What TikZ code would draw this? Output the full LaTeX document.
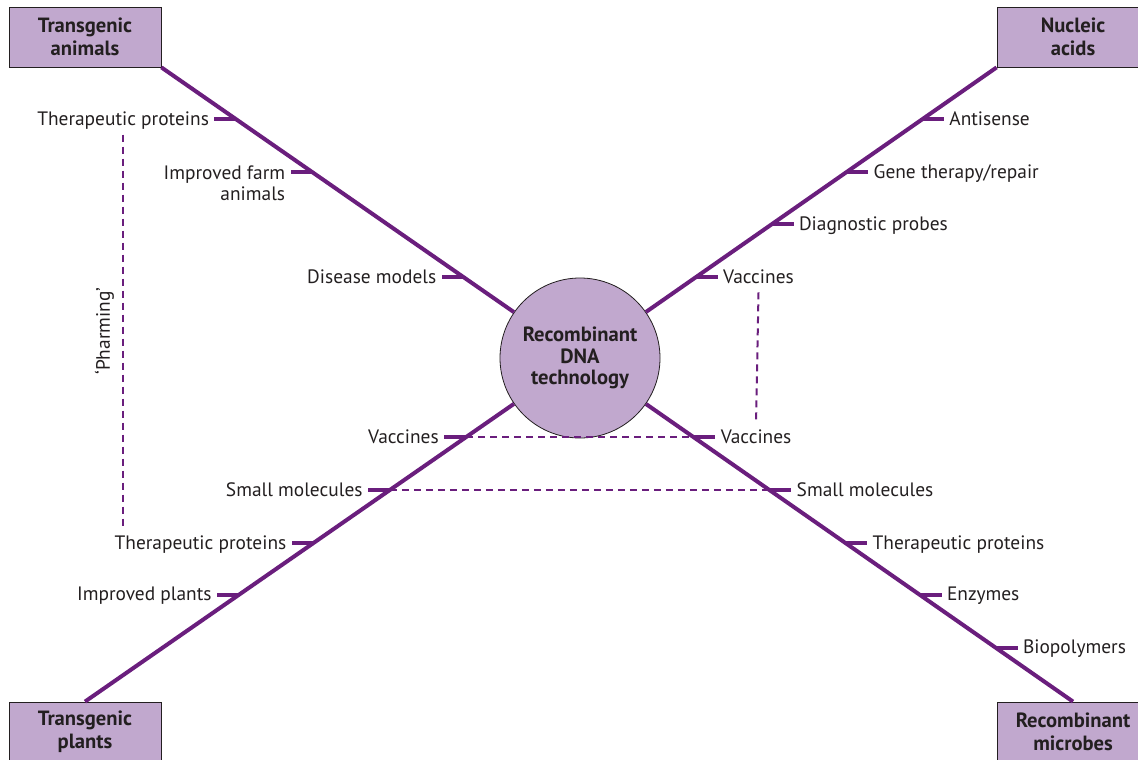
\documentclass[tikz,border=0pt]{standalone}
\usepackage{fontspec}
\setmainfont{PT Sans}
\usetikzlibrary{positioning,calc}
\usepackage{xcolor}
\definecolor{lilac}{HTML}{C1A8CE}
\definecolor{plum}{HTML}{6A1E7D}
\definecolor{ink}{HTML}{231F20}
\tikzset{
  topic/.style={draw=ink, thin, fill=lilac, text=ink, align=center, font=\bfseries\fontsize{10.3}{11.5}\selectfont, minimum width=76pt, minimum height=30pt, inner sep=0pt},
  hubnode/.style={circle, draw=ink, thin, fill=lilac, text=ink, align=center, font=\bfseries\fontsize{10.3}{10.75}\selectfont, minimum size=80pt, inner sep=0pt},
  stem/.style={draw=plum, line width=2pt},
  tick/.style={draw=plum, line width=2pt},
  item/.style={text=ink, font=\fontsize{9.7}{10.5}\selectfont, inner xsep=0pt, inner ysep=3pt, text height=1.5ex, text depth=.25ex},
  link/.style={draw=plum, line width=1pt, dash pattern=on 3.5pt off 2.5pt}
}

\begin{document}
\begin{tikzpicture}[x=0.5pt, y=-0.5pt]
  \clip (0,0) rectangle (1138,759);
  \node[hubnode] (hub) at (580,358) {Recombinant\\DNA\\technology};
  \node[topic] (animals) at (85,37) {Transgenic\\animals};
  \node[topic] (acids) at (1073,37) {Nucleic\\acids};
  \node[topic] (plants) at (85,732) {Transgenic\\plants};
  \node[topic] (microbes) at (1073,732) {Recombinant\\microbes};
  \draw[stem] (hub) -- (animals.south east);
  \draw[stem] (hub) -- (acids.south west);
  \draw[stem] (hub) -- (plants.north);
  \draw[stem] (hub) -- (microbes.north);

  % transgenic animals
  \coordinate (a1) at ($(hub.center)!0.821!(animals.south east)$);
  \coordinate[left=11pt of a1] (a1e);
  \node[item, left=2.5pt of a1e] (a1t) {Therapeutic proteins};
  \coordinate (a2) at ($(hub.center)!0.639!(animals.south east)$);
  \coordinate[left=11pt of a2] (a2e);
  \node[item, align=right, text height=, text depth=, left=2.5pt of a2e, yshift=-5.25pt] (a2t) {Improved farm\\animals};
  \coordinate (a3) at ($(hub.center)!0.278!(animals.south east)$);
  \coordinate[left=11pt of a3] (a3e);
  \node[item, left=2.5pt of a3e] (a3t) {Disease models};
  \draw[tick] (a1) -- (a1e);
  \draw[tick] (a2) -- (a2e);
  \draw[tick] (a3) -- (a3e);

  % nucleic acids
  \coordinate (n1) at ($(hub.center)!0.821!(acids.south west)$);
  \coordinate[right=11pt of n1] (n1e);
  \node[item, right=2.5pt of n1e] (n1t) {Antisense};
  \coordinate (n2) at ($(hub.center)!0.639!(acids.south west)$);
  \coordinate[right=11pt of n2] (n2e);
  \node[item, right=2.5pt of n2e] (n2t) {Gene therapy/repair};
  \coordinate (n3) at ($(hub.center)!0.460!(acids.south west)$);
  \coordinate[right=11pt of n3] (n3e);
  \node[item, right=2.5pt of n3e] (n3t) {Diagnostic probes};
  \coordinate (n4) at ($(hub.center)!0.278!(acids.south west)$);
  \coordinate[right=11pt of n4] (n4e);
  \node[item, right=2.5pt of n4e] (n4t) {Vaccines};
  \draw[tick] (n1) -- (n1e);
  \draw[tick] (n2) -- (n2e);
  \draw[tick] (n3) -- (n3e);
  \draw[tick] (n4) -- (n4e);

  % transgenic plants
  \coordinate (p1) at ($(hub.center)!0.230!(plants.north)$);
  \coordinate[left=11pt of p1] (p1e);
  \node[item, left=2.5pt of p1e] (p1t) {Vaccines};
  \coordinate (p2) at ($(hub.center)!0.384!(plants.north)$);
  \coordinate[left=11pt of p2] (p2e);
  \node[item, left=2.5pt of p2e] (p2t) {Small molecules};
  \coordinate (p3) at ($(hub.center)!0.538!(plants.north)$);
  \coordinate[left=11pt of p3] (p3e);
  \node[item, left=2.5pt of p3e] (p3t) {Therapeutic proteins};
  \coordinate (p4) at ($(hub.center)!0.689!(plants.north)$);
  \coordinate[left=11pt of p4] (p4e);
  \node[item, left=2.5pt of p4e] (p4t) {Improved plants};
  \draw[tick] (p1) -- (p1e);
  \draw[tick] (p2) -- (p2e);
  \draw[tick] (p3) -- (p3e);
  \draw[tick] (p4) -- (p4e);

  % recombinant microbes
  \coordinate (m1) at ($(hub.center)!0.230!(microbes.north)$);
  \coordinate[right=11pt of m1] (m1e);
  \node[item, right=2.5pt of m1e] (m1t) {Vaccines};
  \coordinate (m2) at ($(hub.center)!0.384!(microbes.north)$);
  \coordinate[right=11pt of m2] (m2e);
  \node[item, right=2.5pt of m2e] (m2t) {Small molecules};
  \coordinate (m3) at ($(hub.center)!0.538!(microbes.north)$);
  \coordinate[right=11pt of m3] (m3e);
  \node[item, right=2.5pt of m3e] (m3t) {Therapeutic proteins};
  \coordinate (m4) at ($(hub.center)!0.689!(microbes.north)$);
  \coordinate[right=11pt of m4] (m4e);
  \node[item, right=2.5pt of m4e] (m4t) {Enzymes};
  \coordinate (m5) at ($(hub.center)!0.843!(microbes.north)$);
  \coordinate[right=11pt of m5] (m5e);
  \node[item, right=2.5pt of m5e] (m5t) {Biopolymers};
  \draw[tick] (m1) -- (m1e);
  \draw[tick] (m2) -- (m2e);
  \draw[tick] (m3) -- (m3e);
  \draw[tick] (m4) -- (m4e);
  \draw[tick] (m5) -- (m5e);

  % shared products
  \draw[link] (p1) -- (m1);
  \draw[link] (p2) -- (m2);
  \draw[link] (n4t.south) -- (m1t.north);
  \draw[link] (a1t.south) -- (a1t.south |- p3t.north)
    node[midway, rotate=90, anchor=south, inner sep=4pt, text=ink, font=\fontsize{9.7}{10.5}\selectfont] (pharm) {‘Pharming’};
\end{tikzpicture}
\end{document}
